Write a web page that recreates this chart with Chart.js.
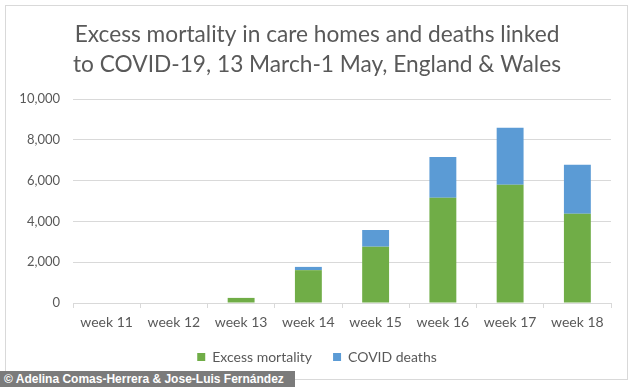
<!DOCTYPE html>
<html>
<head>
<meta charset="utf-8">
<script src="https://cdn.jsdelivr.net/npm/chart.js@4.4.1/dist/chart.umd.min.js"></script>
<style>
  html, body { margin: 0; padding: 0; background: #fff; }
  #wrap { position: relative; width: 634px; height: 387px; }
  canvas { position: absolute; left: 0; top: 0; }
  #credit {
    position: absolute; left: 0; top: 371px; width: 295px; height: 16px;
    background: #7b7b7b; color: #fff; font: bold 12px "Liberation Sans", Arial, sans-serif;
    line-height: 16px; padding-left: 4px; box-sizing: border-box; white-space: nowrap;
  }
</style>
</head>
<body>
<div id="wrap">
  <canvas id="c" width="634" height="387"></canvas>
  <div id="credit">© Adelina Comas-Herrera &amp; Jose-Luis Fernández</div>
</div>
<script>
const categories = ["week 11", "week 12", "week 13", "week 14", "week 15", "week 16", "week 17", "week 18"];
const excessMortality = [0, 0, 250, 1610, 2760, 5160, 5800, 4370];
const covidDeaths = [0, 0, 0, 160, 820, 2000, 2790, 2410];
const titleLines = ["Excess mortality in care homes and deaths linked", "to COVID-19, 13 March-1 May, England & Wales"];
const yTicks = [0, 2000, 4000, 6000, 8000, 10000];

const FONT = "Lato, 'Open Sans', sans-serif";
const TXT = "#595959";

const frame = {
  id: 'frame',
  beforeDraw(chart) {
    // let y-axis labels extend into the left padding
    if (chart.scales.y) chart.scales.y._computeLabelArea = () => undefined;
    const ctx = chart.ctx;
    ctx.save();
    ctx.fillStyle = '#fff';
    ctx.fillRect(0, 0, chart.width, chart.height);
    ctx.strokeStyle = '#d9d9d9';
    ctx.lineWidth = 1;
    ctx.strokeRect(5.5, 5.5, 622, 374);
    ctx.restore();
  }
};

new Chart(document.getElementById('c'), {
  type: 'bar',
  data: {
    labels: categories,
    datasets: [
      { label: 'Excess mortality', data: excessMortality, backgroundColor: '#70ad47', barPercentage: 0.4, categoryPercentage: 1 },
      { label: 'COVID deaths', data: covidDeaths, backgroundColor: '#5b9bd5', barPercentage: 0.4, categoryPercentage: 1 }
    ]
  },
  options: {
    responsive: false,
    animation: false,
    layout: { padding: { left: 23, right: 23, top: 0, bottom: 13 } },
    plugins: {
      title: {
        display: true, text: titleLines, color: TXT,
        font: { family: FONT, size: 22.7, weight: 'normal', lineHeight: 1.3 },
        padding: { top: 20, bottom: 20 }
      },
      legend: {
        position: 'bottom',
        labels: { color: TXT, font: { family: FONT, size: 14 }, boxWidth: 8, boxHeight: 8, padding: 21 }
      },
      tooltip: { enabled: false }
    },
    scales: {
      x: {
        stacked: true,
        offset: true,
        afterFit(scale) { scale.height = 26; },
        grid: { display: true, drawOnChartArea: false, offset: true, tickLength: 5, color: '#d9d9d9' },
        border: { color: '#d9d9d9' },
        ticks: { color: TXT, font: { family: FONT, size: 14 }, padding: 6, maxRotation: 0 }
      },
      y: {
        stacked: true,
        min: 0, max: 10000,
        afterBuildTicks(scale) { scale.ticks = yTicks.map(v => ({ value: v })); },
        afterFit(scale) { scale.width = 50; },
        grid: { color: '#d9d9d9', drawTicks: false },
        border: { display: false },
        ticks: { color: TXT, font: { family: FONT, size: 13 }, padding: 13,
          callback: v => v.toLocaleString('en-US') }
      }
    }
  },
  plugins: [frame]
});
</script>
</body>
</html>
